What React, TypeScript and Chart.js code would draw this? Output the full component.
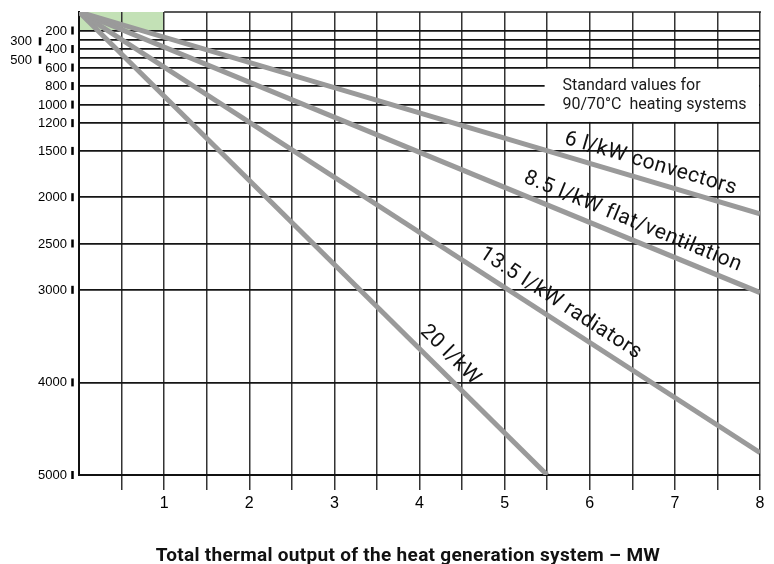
import { useEffect, useRef } from 'react';
import { Chart, registerables } from 'chart.js';

Chart.register(...registerables);

// ---- data ----
const yTickValues = [200, 300, 400, 500, 600, 800, 1000, 1200, 1500, 2000, 2500, 3000, 4000, 5000];
const staggeredTicks = [300, 500];
const xTickLabels = [1, 2, 3, 4, 5, 6, 7, 8];

const seriesNames = ['6 l/kW convectors', '8.5 l/kW flat/ventilation', '13.5 l/kW radiators', '20 l/kW'];
const seriesX = [
  [0, 8],
  [0, 8],
  [0, 8],
  [0, 5.5],
];
const seriesY = [
  [0, 2180],
  [0, 3030],
  [0, 4760],
  [0, 5000],
];
const labelAtX = [6.66, 6.43, 5.55, 4.22];

const greenZoneX = [0, 1];
const greenZoneY = [0, 200];

const noteBoxX = [5.47, 8];
const noteBoxY = [600, 1200];
const noteLines = ['Standard values for', '90/70°C  heating systems'];
const noteLineY = [800, 1000];
const noteTextX = 5.68;

const xTitle = 'Total thermal output of the heat generation system – MW';

export default function App() {
  const ref = useRef<HTMLCanvasElement>(null);

  useEffect(() => {
    const canvas = ref.current!;

    const overlay = {
      id: 'overlay',
      beforeDraw(chart: any) {
        const { ctx } = chart;
        const xs = chart.scales.x;
        const ys = chart.scales.y;
        ctx.save();
        ctx.fillStyle = '#c3e1b6';
        const x0 = xs.getPixelForValue(greenZoneX[0]);
        const x1 = xs.getPixelForValue(greenZoneX[1]);
        const y0 = ys.getPixelForValue(greenZoneY[0]);
        const y1 = ys.getPixelForValue(greenZoneY[1]);
        ctx.fillRect(x0, y0, x1 - x0, y1 - y0);
        ctx.restore();
      },
      beforeDatasetsDraw(chart: any) {
        const { ctx } = chart;
        const xs = chart.scales.x;
        const ys = chart.scales.y;
        ctx.save();
        // top border (right of green zone)
        ctx.strokeStyle = '#222';
        ctx.lineWidth = 1.5;
        ctx.beginPath();
        ctx.moveTo(xs.getPixelForValue(greenZoneX[1]), ys.getPixelForValue(0));
        ctx.lineTo(xs.getPixelForValue(8) + 1, ys.getPixelForValue(0));
        ctx.stroke();
        // note box
        const bx0 = xs.getPixelForValue(noteBoxX[0]);
        const bx1 = xs.getPixelForValue(noteBoxX[1]);
        const by0 = ys.getPixelForValue(noteBoxY[0]);
        const by1 = ys.getPixelForValue(noteBoxY[1]);
        ctx.fillStyle = '#ffffff';
        ctx.fillRect(bx0, by0 + 1.2, bx1 - bx0 - 1, by1 - by0 - 2.4);
        ctx.fillStyle = '#1a1a1a';
        ctx.font = '16px Roboto';
        ctx.textAlign = 'left';
        ctx.textBaseline = 'middle';
        noteLines.forEach((t, i) => {
          ctx.fillText(t, xs.getPixelForValue(noteTextX), ys.getPixelForValue(noteLineY[i]));
        });
        ctx.restore();
      },
      afterDatasetsDraw(chart: any) {
        const { ctx } = chart;
        const xs = chart.scales.x;
        const ys = chart.scales.y;
        const P = (x: number, y: number) => [xs.getPixelForValue(x), ys.getPixelForValue(y)];
        seriesNames.forEach((name, i) => {
          const sx = seriesX[i];
          const sy = seriesY[i];
          const [x0, y0] = P(sx[0], sy[0]);
          const [x1, y1] = P(sx[1], sy[1]);
          const ang = Math.atan2(y1 - y0, x1 - x0);
          const t = labelAtX[i];
          const v = sy[0] + ((sy[1] - sy[0]) * (t - sx[0])) / (sx[1] - sx[0]);
          const [lx, ly] = P(t, v);
          const cx = lx + Math.sin(ang) * 17;
          const cy = ly - Math.cos(ang) * 17;
          ctx.save();
          ctx.translate(cx, cy);
          ctx.rotate(ang);
          ctx.font = '21px Roboto';
          (ctx as any).letterSpacing = '0.6px';
          ctx.textAlign = 'center';
          ctx.textBaseline = 'middle';
          ctx.fillStyle = '#111';
          ctx.fillText(name, 0, 0);
          ctx.restore();
        });
      },
      afterDraw(chart: any) {
        const { ctx } = chart;
        const ys = chart.scales.y;
        const left = chart.chartArea.left;
        ctx.save();
        ctx.fillStyle = '#000';
        ctx.font = '13px "Liberation Sans"';
        ctx.textAlign = 'right';
        ctx.textBaseline = 'middle';
        yTickValues.forEach((v) => {
          const py = ys.getPixelForValue(v);
          const stag = staggeredTicks.includes(v);
          const ly = stag ? py + 1.5 : py;
          const barX = stag ? left - 39 : left - 6.5;
          ctx.fillRect(barX - 1.25, ly - 4, 2.5, 8);
          ctx.fillText(String(v), stag ? left - 47 : left - 12, ly + 0.5);
        });
        ctx.font = 'bold 19px Roboto';
        (ctx as any).letterSpacing = '0.3px';
        ctx.textAlign = 'center';
        ctx.textBaseline = 'alphabetic';
        ctx.fillStyle = '#111';
        ctx.fillText(xTitle, chart.width / 2 + 21, chart.height - 3);
        ctx.restore();
      },
    };

    const chart = new Chart(canvas, {
      type: 'line',
      data: {
        datasets: seriesNames.map((name, i) => ({
          label: name,
          data: seriesX[i].map((x, j) => ({ x, y: seriesY[i][j] })),
          borderColor: '#9a9a9a',
          borderWidth: 5,
          pointRadius: 0,
          fill: false,
          tension: 0,
        })),
      },
      options: {
        animation: false,
        responsive: true,
        maintainAspectRatio: false,
        layout: { padding: { top: 12, right: 14, left: 0, bottom: 0 } },
        plugins: { legend: { display: false }, tooltip: { enabled: false } },
        scales: {
          x: {
            type: 'linear',
            position: 'bottom',
            min: 0,
            max: 8,
            ticks: {
              stepSize: 0.5,
              autoSkip: false,
              maxRotation: 0,
              padding: 4,
              color: '#000',
              font: { family: 'Liberation Sans', size: 16 },
              callback: (v: any) => (xTickLabels.includes(Number(v)) ? String(v) : ''),
            },
            grid: {
              color: (c: any) => (c.tick && c.tick.value === 0 ? 'rgba(0,0,0,0)' : '#333'),
              lineWidth: 1.5,
              tickLength: 15,
              drawTicks: true,
            },
            border: { color: '#111', width: 2 },
            afterFit: (s: any) => {
              s.height = 89;
            },
          },
          y: {
            type: 'linear',
            reverse: true,
            min: 0,
            max: 5000,
            afterBuildTicks: (s: any) => {
              s.ticks = yTickValues.map((v) => ({ value: v }));
            },
            ticks: { display: false },
            grid: { color: '#151515', lineWidth: 1.8, drawTicks: false },
            border: { color: '#111', width: 2 },
            afterFit: (s: any) => {
              s.width = 79;
            },
          },
        },
      },
      plugins: [overlay],
    } as any);

    return () => chart.destroy();
  }, []);

  return (
    <div style={{ position: 'fixed', left: 0, top: 0, width: 774, height: 564, background: '#fff' }}>
      <canvas ref={ref} />
    </div>
  );
}
